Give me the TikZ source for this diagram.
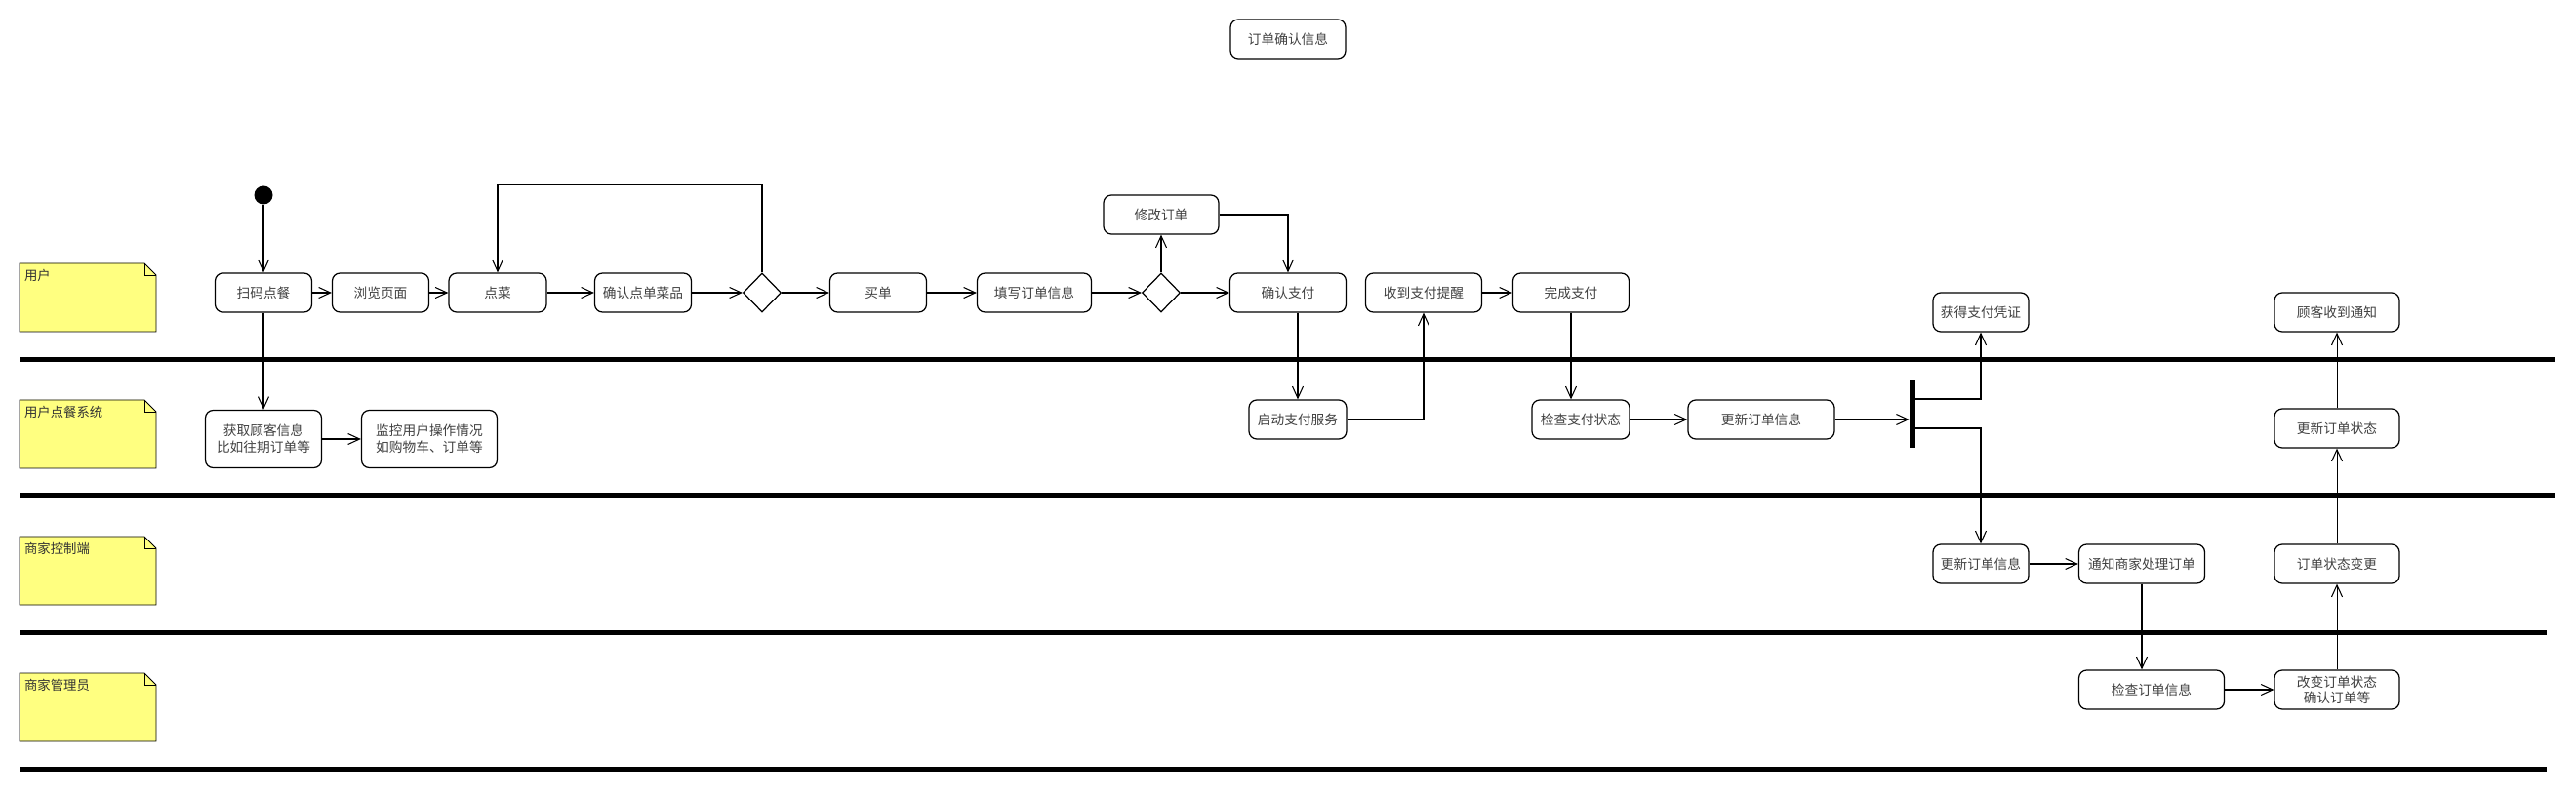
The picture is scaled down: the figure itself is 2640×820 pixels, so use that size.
\documentclass[tikz,border=0pt]{standalone}
\usepackage{fontspec}
\newfontfamily\cjk{Noto Sans CJK SC}
\usetikzlibrary{arrows.meta,shapes.geometric,positioning}

\definecolor{noteyellow}{HTML}{FFFF80}

\tikzset{
    act/.style={draw, rounded corners=1.6mm, line width=0.7pt, minimum height=8mm,
        align=center, inner sep=1pt, text=black!75,
        font=\cjk\fontsize{7.8}{9.4}\selectfont},
    decide/.style={draw, diamond, line width=0.7pt, minimum width=7.8mm,
        minimum height=8mm, inner sep=0pt},
    flow/.style={-{Straight Barb[length=2.4mm,width=2.2mm]}, line width=0.6pt},
    lanebar/.style={line width=1mm},
    lanenote/.style={fill=noteyellow, draw, line width=0.5pt},
    notetext/.style={anchor=north west, inner sep=1pt, text=black!80,
        font=\cjk\fontsize{7.6}{9}\selectfont}
}

\begin{document}
\begin{tikzpicture}[x=0.2mm, y=-0.2mm]
    \useasboundingbox (0,0) rectangle (2640,820);

    % Swimlane labels
    \foreach \y/\lbl in {270/用户, 410/用户点餐系统, 550/商家控制端, 690/商家管理员} {
        \draw[lanenote] (20,\y) -- (148,\y) -- (160,\y+12) -- (160,\y+70) -- (20,\y+70) -- cycle;
        \draw[line width=0.5pt] (148,\y) -- (148,\y+12) -- (160,\y+12);
        \node[notetext] at (23,\y+4) {\lbl};
    }

    % Swimlane separators
    \foreach \y/\xe in {369/2618, 508/2618, 648/2610, 788/2610} {
        \draw[lanebar] (20,\y) -- (\xe,\y);
    }

    % Title
    \node[act, minimum width=23.6mm] (title) at (1320,40) {订单确认信息};

    % User lane
    \node[circle, fill, minimum size=3.8mm, inner sep=0pt] (init) at (270,200) {};
    \node[act, minimum width=19.8mm] (scan) at (270,300) {扫码点餐};
    \node[act, minimum width=19.8mm] (browse) at (390,300) {浏览页面};
    \node[act, minimum width=20mm] (dish) at (510,300) {点菜};
    \node[act, minimum width=19.8mm] (confirmdish) at (659,300) {确认点单菜品};
    \node[decide] (d1) at (781,300) {};
    \node[act, minimum width=19.8mm] (checkout) at (900,300) {买单};
    \node[act, minimum width=23.4mm] (fillin) at (1060,300) {填写订单信息};
    \node[decide] (d2) at (1190,300) {};
    \node[act, minimum width=23.6mm] (modify) at (1190,220) {修改订单};
    \node[act, minimum width=23.8mm] (pay) at (1320,300) {确认支付};
    \node[act, minimum width=23.8mm] (remind) at (1459,300) {收到支付提醒};
    \node[act, minimum width=23.8mm] (finish) at (1610,300) {完成支付};
    \node[act, minimum width=19.6mm] (receipt) at (2030,320) {获得支付凭证};
    \node[act, minimum width=25.6mm] (notifycust) at (2395,320) {顾客收到通知};

    % Ordering system lane
    \node[act, minimum width=23.8mm, minimum height=11.8mm] (custinfo) at (270,450) {获取顾客信息\\比如往期订单等};
    \node[act, minimum width=27.8mm, minimum height=11.8mm] (monitor) at (440,450) {监控用户操作情况\\如购物车、订单等};
    \node[act, minimum width=20mm] (startpay) at (1330,430) {启动支付服务};
    \node[act, minimum width=20mm] (checkpay) at (1620,430) {检查支付状态};
    \node[act, minimum width=30mm] (updateinfo) at (1805,430) {更新订单信息};
    \node[fill, minimum width=1.2mm, minimum height=14mm, inner sep=0pt] (fork) at (1960,424) {};
    \node[act, minimum width=25.6mm] (updatestate) at (2395,439) {更新订单状态};

    % Merchant console lane
    \node[act, minimum width=19.6mm] (syncinfo) at (2030,578) {更新订单信息};
    \node[act, minimum width=25.8mm] (notifyshop) at (2195,578) {通知商家处理订单};
    \node[act, minimum width=25.6mm] (statechange) at (2395,578) {订单状态变更};

    % Merchant admin lane
    \node[act, minimum width=29.8mm] (checkorder) at (2205,707) {检查订单信息};
    \node[act, minimum width=25.6mm] (changestate) at (2395,707) {改变订单状态\\确认订单等};

    % Flow
    \draw[flow] (init) -- (scan);
    \draw[flow] (scan) -- (browse);
    \draw[flow] (browse) -- (dish);
    \draw[flow] (dish) -- (confirmdish);
    \draw[flow] (confirmdish) -- (d1);
    \draw[flow] (d1) -- (checkout);
    \draw[flow] (d1.north) -- ++(0,-90) -| (dish.north);
    \draw[flow] (checkout) -- (fillin);
    \draw[flow] (fillin) -- (d2);
    \draw[flow] (d2) -- (pay);
    \draw[flow] (d2) -- (modify);
    \draw[flow] (modify.east) -| (pay.north);
    \draw[flow] (scan) -- (custinfo);
    \draw[flow] (custinfo) -- (monitor);
    \draw[flow] (pay.south -| startpay.north) -- (startpay.north);
    \draw[flow] (startpay.east) -| (remind.south);
    \draw[flow] (remind) -- (finish);
    \draw[flow] (finish.south) -- (finish.south |- checkpay.north);
    \draw[flow] (checkpay) -- (updateinfo);
    \draw[flow] (updateinfo.east) -- (updateinfo.east -| fork.west);
    \draw[flow] ([yshift=3mm]fork.east) -| (receipt.south);
    \draw[flow] ([yshift=-3mm]fork.east) -| (syncinfo.north);
    \draw[flow] (syncinfo) -- (notifyshop);
    \draw[flow] (notifyshop.south) -- (notifyshop.south |- checkorder.north);
    \draw[flow] (checkorder) -- (changestate);
    \draw[flow] (changestate) -- (statechange);
    \draw[flow] (statechange) -- (updatestate);
    \draw[flow] (updatestate) -- (notifycust);

\end{tikzpicture}
\end{document}
